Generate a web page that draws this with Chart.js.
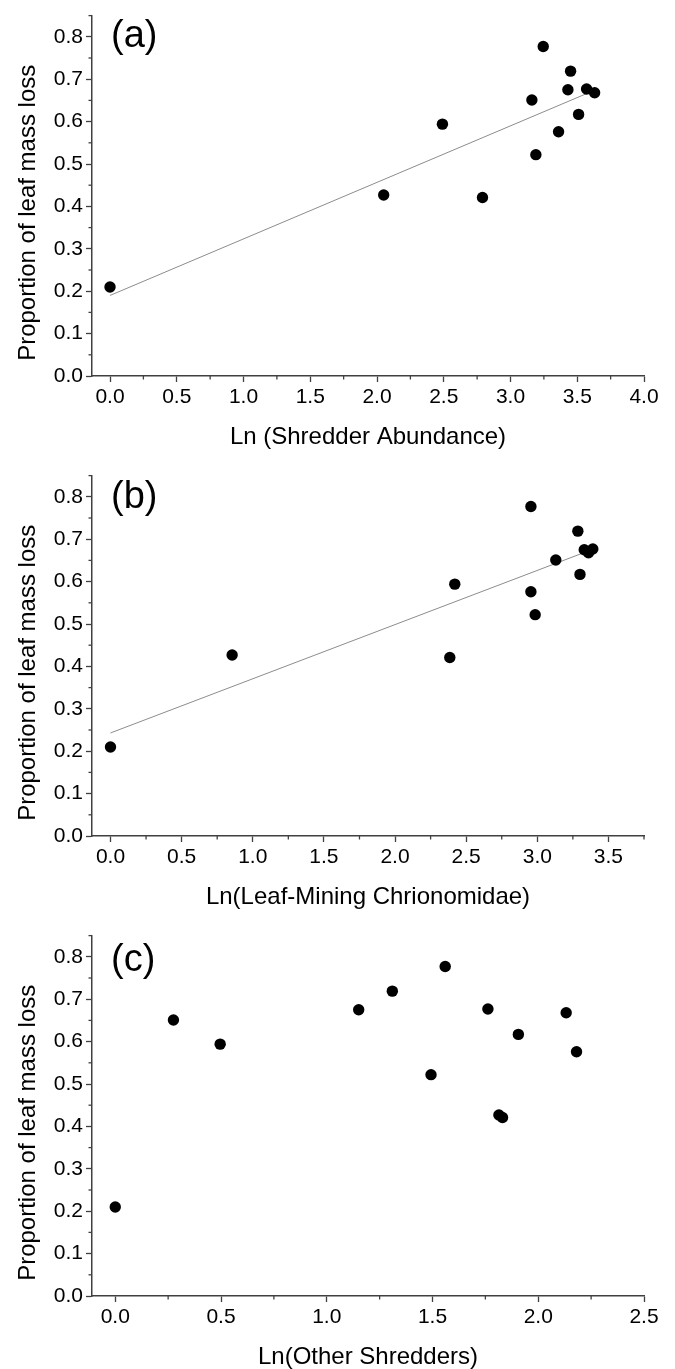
<!DOCTYPE html>
<html>
<head>
<meta charset="utf-8">
<script src="https://cdn.jsdelivr.net/npm/chart.js@4.4.1/dist/chart.umd.min.js"></script>
<style>
  html, body { margin: 0; padding: 0; background: #fff; overflow: hidden; }
  .panel { position: absolute; left: 0; width: 675px; height: 460px; }
</style>
</head>
<body>
<div class="panel" style="top:0px"><canvas id="chartA" width="675" height="460"></canvas></div>
<div class="panel" style="top:460px"><canvas id="chartB" width="675" height="460"></canvas></div>
<div class="panel" style="top:920px"><canvas id="chartC" width="675" height="460"></canvas></div>
<script>
// response: proportion of leaf mass loss (same 13 sites in every panel)
const massLoss = [0.210, 0.427, 0.421, 0.594, 0.651, 0.522, 0.777, 0.576, 0.675, 0.719, 0.617, 0.677, 0.668];

// predictors, same site order as massLoss
const lnShredders = [0.00, 2.05, 2.79, 2.49, 3.16, 3.19, 3.245, 3.36, 3.43, 3.45, 3.51, 3.57, 3.63];
const lnLeafMiners = [0.00, 0.855, 2.385, 2.42, 3.13, 2.985, 2.955, 2.955, 3.33, 3.285, 3.30, 3.39, 3.36];
const lnOtherShredders = [0.00, 1.814, 1.831, 0.496, 0.275, 1.493, 1.560, 2.181, 1.151, 1.310, 1.906, 1.762, 2.132];

// regression lines (a) and (b)
const fitAX = [0, 3.57];
const fitAY = [0.190, 0.666];
const fitBX = [0, 3.31];
const fitBY = [0.243, 0.666];

const yTitle = 'Proportion of leaf mass loss';
const xTitles = ['Ln (Shredder Abundance)', 'Ln(Leaf-Mining Chrionomidae)', 'Ln(Other Shredders)'];
const letters = ['(a)', '(b)', '(c)'];

const axisColor = '#404040';
const fontFamily = '"Liberation Sans", Arial, sans-serif';

function isMajor(v, step) {
  const r = v / step;
  return Math.abs(r - Math.round(r)) < 1e-6;
}

function toPoints(xs, ys) {
  return xs.map((x, i) => ({ x: x, y: ys[i] }));
}

// minor ticks, panel letter and the y title
const panelDecor = {
  id: 'panelDecor',
  afterDraw(chart, args, opts) {
    const { ctx, chartArea, scales } = chart;
    ctx.save();
    ctx.strokeStyle = axisColor;
    ctx.lineWidth = 1.3;
    const xs = scales.x, ys = scales.y;
    xs.ticks.forEach(t => {
      if (isMajor(t.value, opts.xMajor)) return;
      const p = xs.getPixelForValue(t.value);
      ctx.beginPath();
      ctx.moveTo(p, chartArea.bottom);
      ctx.lineTo(p, chartArea.bottom + 3.5);
      ctx.stroke();
    });
    ys.ticks.forEach(t => {
      if (isMajor(t.value, 0.1)) return;
      const p = ys.getPixelForValue(t.value);
      ctx.beginPath();
      ctx.moveTo(chartArea.left, p);
      ctx.lineTo(chartArea.left - 3.5, p);
      ctx.stroke();
    });

    ctx.fillStyle = '#000';
    ctx.textBaseline = 'middle';
    ctx.textAlign = 'left';
    ctx.font = '38px ' + fontFamily;
    ctx.fillText(opts.letter, chartArea.left + 19, opts.letterY);

    ctx.translate(28, (chartArea.top + chartArea.bottom) / 2 + 17);
    ctx.rotate(-Math.PI / 2);
    ctx.textAlign = 'center';
    ctx.font = '24px ' + fontFamily;
    ctx.fillText(yTitle, 0, 0);
    ctx.restore();
  }
};

function makePanel(canvasId, idx, xs, xMin, xMax, xMajor, fitX, fitY, letterY) {
  const datasets = [{
    data: toPoints(xs, massLoss),
    pointRadius: 5.7,
    pointHoverRadius: 5.7,
    backgroundColor: '#000',
    borderWidth: 0,
    showLine: false
  }];
  if (fitX) {
    datasets.push({
      data: toPoints(fitX, fitY),
      showLine: true,
      borderColor: '#8c8c8c',
      borderWidth: 1,
      pointRadius: 0
    });
  }

  new Chart(document.getElementById(canvasId), {
    type: 'scatter',
    data: { datasets: datasets },
    options: {
      responsive: false,
      animation: false,
      events: [],
      layout: { padding: { top: 11, right: 31, left: 0, bottom: 0 } },
      plugins: {
        legend: { display: false },
        tooltip: { enabled: false },
        panelDecor: { letter: letters[idx], letterY: letterY, xMajor: xMajor }
      },
      scales: {
        x: {
          type: 'linear',
          min: xMin,
          max: xMax,
          border: { color: axisColor, width: 1.5 },
          grid: {
            drawOnChartArea: false,
            tickLength: 6,
            color: axisColor,
            tickWidth: 1.3,
            tickColor: c => (c.tick && isMajor(c.tick.value, xMajor)) ? axisColor : 'rgba(0,0,0,0)'
          },
          ticks: {
            stepSize: xMajor / 2,
            includeBounds: false,
            autoSkip: false,
            maxRotation: 0,
            padding: 3,
            color: '#000',
            font: { family: fontFamily, size: 21 },
            callback: v => isMajor(v, xMajor) ? v.toFixed(1) : ''
          },
          title: {
            display: true,
            text: xTitles[idx],
            color: '#000',
            font: { family: fontFamily, size: 24 },
            padding: { top: 0, bottom: 8 }
          },
          afterFit: s => { s.height = 84; }
        },
        y: {
          type: 'linear',
          min: 0,
          max: 0.85,
          border: { color: axisColor, width: 1.5 },
          grid: {
            drawOnChartArea: false,
            tickLength: 6,
            color: axisColor,
            tickWidth: 1.3,
            tickColor: c => (c.tick && isMajor(c.tick.value, 0.1)) ? axisColor : 'rgba(0,0,0,0)'
          },
          ticks: {
            stepSize: 0.05,
            includeBounds: false,
            autoSkip: false,
            padding: 3,
            color: '#000',
            font: { family: fontFamily, size: 21 },
            callback: v => isMajor(v, 0.1) ? v.toFixed(1) : ''
          },
          afterFit: s => { s.width = 92; }
        }
      }
    },
    plugins: [panelDecor]
  });
}

makePanel('chartA', 0, lnShredders, -0.135, 4.0, 0.5, fitAX, fitAY, 37);
makePanel('chartB', 1, lnLeafMiners, -0.13, 3.75, 0.5, fitBX, fitBY, 38);
makePanel('chartC', 2, lnOtherShredders, -0.11, 2.5, 0.5, null, null, 41);
</script>
</body>
</html>
